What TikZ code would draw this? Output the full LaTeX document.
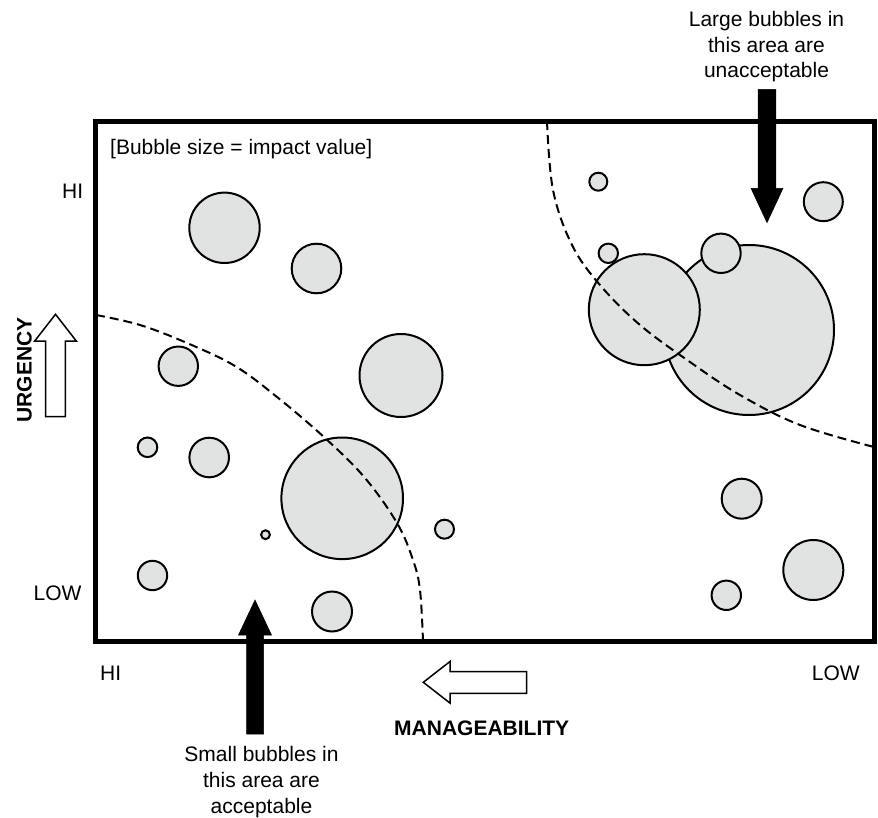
\documentclass[tikz,border=0pt]{standalone}
\usepackage{fontspec}
\setmainfont{Liberation Sans}
\definecolor{bubblefill}{RGB}{225,227,226}
\begin{document}
\begin{tikzpicture}[x=1pt,y=-1pt,
  bubble/.style={circle, draw=black, line width=2pt, fill=bubblefill, inner sep=0pt, minimum size=#1},
  txt/.style={inner sep=0pt, font=\fontsize{21}{26}\selectfont},
  boldtxt/.style={txt, font=\fontsize{21}{26}\selectfont\bfseries},
  boundary/.style={line width=2pt, dash pattern=on 9pt off 5pt},
  solidarrow/.style={fill=black, draw=black, line width=0.5pt, line join=miter},
  hollowarrow/.style={fill=white, draw=black, line width=1.5pt, line join=miter}]
\useasboundingbox (0,0) rectangle (878,818);

% bubbles, left half
\node[bubble=70.4]  (b1)  at (224.5,227.8) {};
\node[bubble=49.6]  (b2)  at (316.5,268.5) {};
\node[bubble=39.4]  (b3)  at (178.3,366.2) {};
\node[bubble=83]    (b4)  at (401,375.5) {};
\node[bubble=19.6]  (b5)  at (147.5,447.3) {};
\node[bubble=39.6]  (b6)  at (209.2,457.5) {};
\node[bubble=121.6] (b7)  at (342.2,498.3) {};
\node[bubble=8.8]   (b8)  at (265.5,534.7) {};
\node[bubble=19]    (b9)  at (444.5,529.2) {};
\node[bubble=29.4]  (b10) at (152.5,575.5) {};
\node[bubble=40]    (b11) at (332,611.5) {};
% bubbles, right half
\node[bubble=18]    (b12) at (598.3,181.7) {};
\node[bubble=39]    (b13) at (823.3,201.7) {};
\node[bubble=170]   (b14) at (749,330) {};
\node[bubble=19.4]  (b15) at (608.3,253.3) {};
\node[bubble=111]   (b16) at (644.3,309.7) {};
\node[bubble=39.4]  (b17) at (721,253.3) {};
\node[bubble=40]    (b18) at (741.7,498.7) {};
\node[bubble=60]    (b19) at (813.3,570) {};
\node[bubble=29.4]  (b20) at (726.3,595.3) {};

% acceptance boundaries
\draw[boundary] plot[smooth, tension=0.6] coordinates {
  (547,121) (553,190) (572,245) (600,285) (640,325) (690,362) (740,395) (800,425) (874,447)};
\draw[boundary] plot[smooth, tension=0.6] coordinates {
  (96,315) (140,325) (187,343) (235,366) (277,397) (325,438) (365,478) (397,523) (413,560) (420,590) (423,641)};

% chart frame
\draw[line width=4.5pt] (95.7,121.7) rectangle (874.3,641.7);

% captions
\node[txt, anchor=base west] (note) at (110,155) {[Bubble size = impact value]};
\node[txt, anchor=base east] (uhi) at (83.3,198.3) {HI};
\node[txt, anchor=base east] (ulow) at (81.7,600) {LOW};
\node[txt, anchor=base west] (mhi) at (100,680) {HI};
\node[txt, anchor=base] (mlow) at (835.8,680) {LOW};
\node[boldtxt, anchor=base] (mlab) at (481.7,735) {MANAGEABILITY};
\node[boldtxt, anchor=base, rotate=90] (ulab) at (31.7,370) {URGENCY};
\node[txt, align=center, anchor=north, font=\fontsize{21}{25.3}\selectfont] (largetxt) at (766.5,11.4)
  {Large bubbles in\\this area are\\unacceptable};
\node[txt, align=center, anchor=north, font=\fontsize{21}{26}\selectfont] (smalltxt) at (261.5,746.5)
  {Small bubbles in\\this area are\\acceptable};

% direction arrows
\draw[hollowarrow] (55.5,314.3) -- (76.3,341) -- (65.3,341) -- (65.3,416.7)
  -- (45.7,416.7) -- (45.7,341) -- (34.7,341) -- cycle;
\draw[hollowarrow] (423.3,682.3) -- (450,661.5) -- (450,671.7) -- (526.7,671.7)
  -- (526.7,693.3) -- (450,693.3) -- (450,703.1) -- cycle;

% pointer arrows
\draw[solidarrow] (255,600) -- (271.5,635) -- (263.5,635) -- (263.5,734)
  -- (246.5,734) -- (246.5,635) -- (238.5,635) -- cycle;
\draw[solidarrow] (767,222.7) -- (783,188.3) -- (775.8,188.3) -- (775.8,89.3)
  -- (758.2,89.3) -- (758.2,188.3) -- (751,188.3) -- cycle;
\end{tikzpicture}
\end{document}
